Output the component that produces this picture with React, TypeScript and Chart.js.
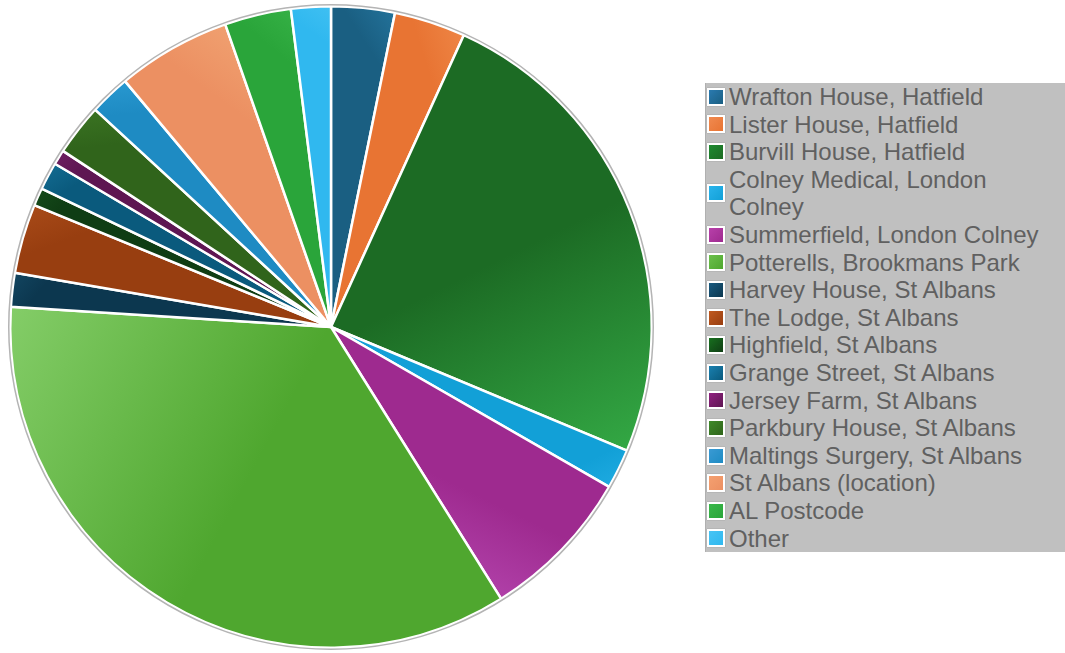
import React, { useEffect, useRef } from "react";
import { Chart, registerables } from "chart.js";

Chart.register(...registerables);

const labels: string[] = [
  "Wrafton House, Hatfield",
  "Lister House, Hatfield",
  "Burvill House, Hatfield",
  "Colney Medical, London Colney",
  "Summerfield, London Colney",
  "Potterells, Brookmans Park",
  "Harvey House, St Albans",
  "The Lodge, St Albans",
  "Highfield, St Albans",
  "Grange Street, St Albans",
  "Jersey Farm, St Albans",
  "Parkbury House, St Albans",
  "Maltings Surgery, St Albans",
  "St Albans (location)",
  "AL Postcode",
  "Other",
];

const values: number[] = [3.2, 3.6, 24.5, 2.0, 7.8, 34.9, 1.7, 3.5, 0.9, 1.4, 0.75, 2.6, 2.05, 5.75, 3.35, 2.0];

const baseColors: string[] = [
  "#1a5f82", "#e87433", "#1c6b24", "#12a0d7", "#9e2a8f", "#4fa72f", "#0c374f", "#983e10",
  "#0f3d14", "#0a5a7d", "#5e1652", "#30641b", "#1e8bc3", "#ec9062", "#2aa53a", "#30b8ef",
];

const lightColors: string[] = [
  "#23729a", "#ee8545", "#33a844", "#1eaae0", "#b040a8", "#84cd68", "#124560", "#a84a18",
  "#154a1a", "#126a90", "#6d1f60", "#3a7322", "#2898d0", "#f0a070", "#35b045", "#40c0f2",
];

const swatchColors: string[] = [
  "#2a7ab0", "#f08a50", "#1f8a30", "#2ab4ec", "#b840aa", "#6cc04c", "#1a5a80", "#c05a20",
  "#18701f", "#1a80b0", "#902080", "#3f8a2a", "#3a9ad4", "#f4a070", "#3ab84a", "#48c4f4",
];

function sliceFill(context: any): any {
  const i = context.dataIndex;
  if (i === undefined || i === null) return baseColors[0];
  const chart = context.chart;
  const area = chart.chartArea;
  if (!area) return baseColors[i];
  const total = values.reduce((a, b) => a + b, 0);
  let cum = 0;
  for (let k = 0; k < i; k++) cum += values[k];
  const a0 = -Math.PI / 2 + (2 * Math.PI * cum) / total;
  const a1 = -Math.PI / 2 + (2 * Math.PI * (cum + values[i])) / total;
  const cx = (area.left + area.right) / 2;
  const cy = (area.top + area.bottom) / 2;
  const r = Math.min(area.right - area.left, area.bottom - area.top) / 2;
  const x0 = cx + r * 0.85 * Math.cos(a0);
  const y0 = cy + r * 0.85 * Math.sin(a0);
  const x1 = cx + r * Math.cos(a1);
  const y1 = cy + r * Math.sin(a1);
  const g = chart.ctx.createLinearGradient(x0, y0, x1, y1);
  g.addColorStop(0, baseColors[i]);
  g.addColorStop(0.45, baseColors[i]);
  g.addColorStop(1, lightColors[i]);
  return g;
}

const outlinePlugin = {
  id: "outline",
  afterDatasetsDraw(chart: any) {
    const meta = chart.getDatasetMeta(0);
    const arc = meta.data[0];
    if (!arc) return;
    const { x, y, outerRadius } = arc.getProps(["x", "y", "outerRadius"], true);
    const ctx = chart.ctx;
    ctx.save();
    ctx.beginPath();
    ctx.arc(x, y, outerRadius + 1.5, 0, Math.PI * 2);
    ctx.strokeStyle = "#b4b4b4";
    ctx.lineWidth = 1.5;
    ctx.stroke();
    ctx.restore();
  },
};

export default function App() {
  const canvasRef = useRef<HTMLCanvasElement | null>(null);

  useEffect(() => {
    if (!canvasRef.current) return;
    const chart = new Chart(canvasRef.current, {
      type: "pie",
      data: {
        labels,
        datasets: [
          {
            data: values,
            backgroundColor: sliceFill,
            borderColor: "#ffffff",
            borderWidth: 2.5,
          },
        ],
      },
      options: {
        animation: false,
        responsive: true,
        maintainAspectRatio: false,
        layout: { padding: 5 },
        plugins: {
          legend: { display: false },
          tooltip: { enabled: false },
        },
      },
      plugins: [outlinePlugin],
    });
    return () => chart.destroy();
  }, []);

  return (
    <div
      style={{
        position: "fixed",
        left: 0,
        top: 0,
        width: 1065,
        height: 653,
        background: "#ffffff",
        overflow: "hidden",
      }}
    >
      <div style={{ position: "absolute", left: 0, top: 0, width: 662, height: 654 }}>
        <canvas ref={canvasRef} />
      </div>
      <div
        style={{
          position: "absolute",
          left: 705,
          top: 83,
          width: 380,
          background: "#c0c0c0",
          borderLeft: "1px solid #b0b0b0",
          fontFamily: '"Liberation Sans", Arial, sans-serif',
          fontSize: 24,
          lineHeight: "27.6px",
          color: "#606060",
        }}
      >
        {labels.map((label, i) => (
          <div key={label} style={{ display: "flex", alignItems: "center" }}>
            <div
              style={{
                width: 14,
                height: 14,
                marginLeft: 1,
                marginRight: 4,
                flex: "0 0 auto",
                border: "2px solid #ffffff",
                boxShadow: "0 0 1px #888",
                background: `linear-gradient(135deg, ${swatchColors[i]}, ${baseColors[i]})`,
              }}
            />
            <div style={{ width: 330 }}>{label}</div>
          </div>
        ))}
      </div>
    </div>
  );
}
